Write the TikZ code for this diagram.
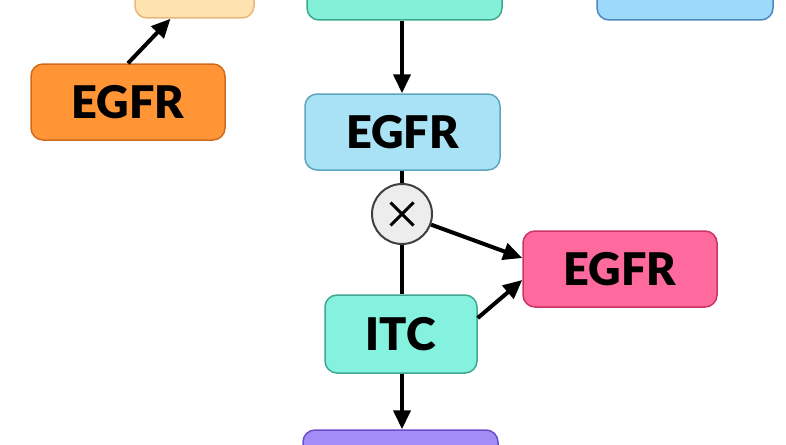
\documentclass[tikz,border=0pt]{standalone}
\usepackage{fontspec}
\setmainfont{Lato}[BoldFont={Lato Black}]
\usetikzlibrary{arrows.meta}

\definecolor{peachfill}{HTML}{FEE3B0}
\definecolor{peachline}{HTML}{EBB57A}
\definecolor{tealfill}{HTML}{85F0D8}
\definecolor{tealline}{HTML}{3BA88E}
\definecolor{skyfill}{HTML}{9DD9FB}
\definecolor{skyline}{HTML}{4C88BE}
\definecolor{orangefill}{HTML}{FF9535}
\definecolor{orangeline}{HTML}{D26A1E}
\definecolor{bluefill}{HTML}{A9E2F5}
\definecolor{blueline}{HTML}{5FA5BE}
\definecolor{pinkfill}{HTML}{FF6A9E}
\definecolor{pinkline}{HTML}{C83563}
\definecolor{itcfill}{HTML}{85F2DF}
\definecolor{itcline}{HTML}{3EA893}
\definecolor{purplefill}{HTML}{A48CF7}
\definecolor{purpleline}{HTML}{6B4FC9}

\begin{document}
\begin{tikzpicture}[x=1pt, y=-1pt,
	box/.style = {draw, rounded corners=12pt, line width=1.5pt, minimum width=195pt, minimum height=76pt, inner sep=0pt, font=\fontsize{45}{45}\selectfont\bfseries},
	conn/.style = {line width=4pt, -{Triangle[length=19pt, width=17pt]}},
	link/.style = {line width=4pt}]
	\useasboundingbox (0,0) rectangle (786,444);

	% boxes cut off at the top
	\node[box, fill=peachfill, draw=peachline, minimum width=119pt] (peach) at (194.5,-20) {};
	\node[box, fill=tealfill, draw=tealline] (tealtop) at (404.5,-18) {};
	\node[box, fill=skyfill, draw=skyline, minimum width=176pt] (skytop) at (685,-18) {};

	\node[box, fill=orangefill, draw=orangeline, minimum width=194pt] (egfrleft) at (128,102) {EGFR};
	\node[box, fill=bluefill, draw=blueline] (egfrmid) at (402.5,132) {EGFR};
	\node[circle, draw=black!75, fill=black!7, line width=2pt, minimum size=60pt, inner sep=0pt] (mult) at (402,214) {};
	\node[box, fill=pinkfill, draw=pinkline, minimum width=194pt] (egfrright) at (620,269) {EGFR};
	\node[box, fill=itcfill, draw=itcline, minimum width=152pt, minimum height=78pt] (itc) at (401,334) {ITC};
	\node[box, fill=purplefill, draw=purpleline] (bottom) at (400.5,468) {};

	% the cross inside the circle
	\draw[line width=3pt] (mult.center) ++(-11.5,-11.5) -- ++(23,23);
	\draw[line width=3pt] (mult.center) ++(11.5,-11.5) -- ++(-23,23);

	\draw[conn] (egfrleft.north) -- ([xshift=-24pt]peach.south);
	\draw[conn] (mult.north |- tealtop.south) -- (mult.north |- egfrmid.north);
	\draw[link] (mult.north |- egfrmid.south) -- (mult.north);
	\draw[link] (mult.south) -- (mult.south |- itc.north);
	\draw[conn] (mult) -- ([yshift=11pt]egfrright.west);
	\draw[conn] ([yshift=16pt]itc.east) -- ([yshift=-11pt]egfrright.west);
	\draw[conn] (mult.south |- itc.south) -- (mult.south |- bottom.north);
\end{tikzpicture}
\end{document}
